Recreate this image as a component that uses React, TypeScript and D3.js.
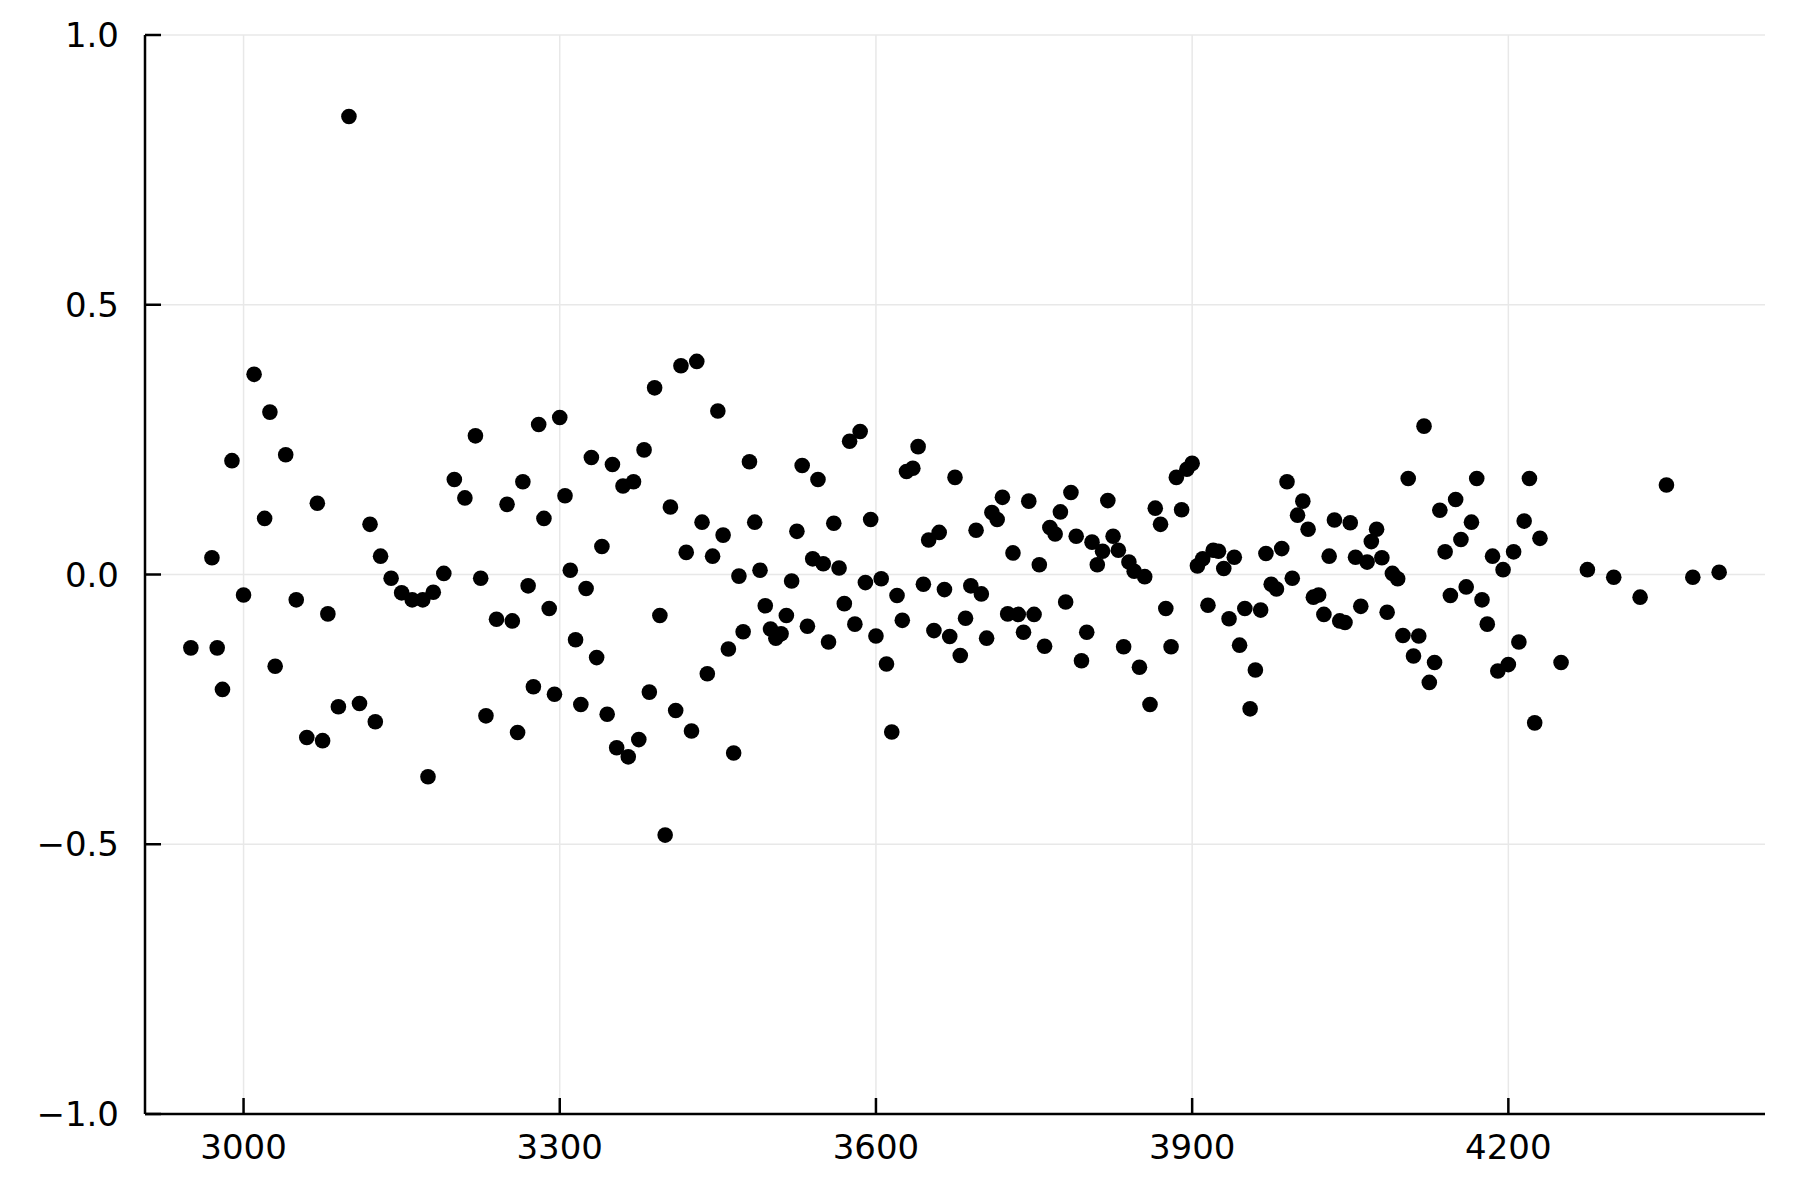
import React from "react";
import * as d3 from "d3";

// x positions of the points
const xs = [
  2950, 2970, 2975, 2980, 2989, 3000, 3010, 3020, 3025, 3030, 3040, 3050, 3060, 3070, 3075, 3080, 3090, 3100, 3110, 3120,
  3125, 3130, 3140, 3150, 3160, 3170, 3175, 3180, 3190,
  3200, 3210, 3220, 3225, 3230, 3240, 3250, 3255, 3260, 3265, 3270, 3275, 3280, 3285, 3290, 3295, 3300, 3305, 3310, 3315,
  3320, 3325, 3330, 3335, 3340, 3345, 3350, 3354, 3360, 3365, 3370, 3375, 3380, 3385, 3390, 3395, 3400, 3405, 3410, 3415,
  3420, 3425, 3430, 3435, 3440, 3445,
  3450, 3455, 3460, 3465, 3470, 3474, 3480, 3485, 3490, 3495, 3500, 3505, 3510, 3515, 3520, 3525, 3530, 3535, 3540, 3545,
  3550, 3555, 3560, 3565, 3570, 3575, 3580, 3585, 3590, 3595, 3600, 3605, 3610, 3615, 3620, 3625, 3629, 3635, 3640, 3645,
  3650, 3655, 3660, 3665, 3670, 3675, 3680, 3685, 3690, 3695, 3700,
  3705, 3710, 3715, 3720, 3725, 3730, 3735, 3740, 3745, 3750, 3755, 3760, 3765, 3770, 3775, 3780, 3785, 3790, 3795, 3800,
  3805, 3810, 3815, 3820, 3825, 3830, 3835, 3840, 3845, 3850, 3855, 3860, 3865, 3870, 3875, 3880, 3885, 3890, 3895, 3900,
  3905, 3910, 3915, 3920, 3925, 3930, 3935, 3940, 3945, 3950,
  3955, 3960, 3965, 3970, 3975, 3980, 3985, 3990, 3995, 4000, 4005, 4010, 4015, 4020, 4025, 4030, 4035, 4040, 4045, 4050,
  4055, 4060, 4066, 4070, 4075, 4080, 4085, 4090, 4095, 4100, 4105, 4110, 4115, 4120, 4125, 4130, 4135, 4140, 4145, 4150,
  4155, 4160, 4165, 4170, 4175, 4180, 4185, 4190, 4195, 4200, 4205,
  4210, 4215, 4220, 4225, 4230, 4250, 4275, 4300, 4325, 4350, 4375, 4400,
];

// y values, same order as xs
const ys = [
  -0.136, 0.031, -0.136, -0.213, 0.211, -0.038, 0.371, 0.104, 0.301, -0.17, 0.222, -0.047, -0.302, 0.132, -0.308, -0.073,
  -0.245, 0.849, -0.239, 0.093, -0.273, 0.034, -0.007, -0.034, -0.047, -0.047, -0.375, -0.033, 0.002,
  0.176, 0.142, 0.257, -0.007, -0.262, -0.083, 0.13, -0.086, -0.293, 0.172, -0.021, -0.208, 0.278, 0.104, -0.063, -0.222,
  0.291, 0.146, 0.008, -0.121, -0.241, -0.026, 0.217, -0.154, 0.052, -0.259, 0.204, -0.321, 0.164, -0.338, 0.172, -0.306,
  0.231, -0.218, 0.346, -0.076, -0.483, 0.125, -0.252, 0.387, 0.041, -0.29, 0.395, 0.097, -0.184, 0.034,
  0.303, 0.073, -0.138, -0.331, -0.003, -0.106, 0.209, 0.097, 0.008, -0.058, -0.101, -0.118, -0.11, -0.076, -0.012, 0.08,
  0.202, -0.096, 0.029, 0.176, 0.02, -0.125, 0.095, 0.012, -0.054, 0.247, -0.092, 0.265, -0.015, 0.102, -0.114, -0.008,
  -0.166, -0.292, -0.039, -0.085, 0.191, 0.197, 0.237, -0.018, 0.064, -0.104, 0.078, -0.028, -0.115, 0.18, -0.15, -0.081,
  -0.021, 0.082, -0.036,
  -0.118, 0.115, 0.102, 0.143, -0.073, 0.04, -0.074, -0.107, 0.136, -0.074, 0.018, -0.133, 0.087, 0.075, 0.116, -0.051,
  0.152, 0.071, -0.16, -0.107, 0.06, 0.018, 0.043, 0.137, 0.071, 0.045, -0.134, 0.023, 0.006, -0.172, -0.004, -0.241,
  0.123, 0.093, -0.063, -0.134, 0.18, 0.12, 0.195, 0.206, 0.016, 0.029, -0.057, 0.045, 0.043, 0.011, -0.082, 0.032,
  -0.131, -0.063,
  -0.249, -0.177, -0.066, 0.039, -0.018, -0.027, 0.048, 0.172, -0.007, 0.11, 0.136, 0.084, -0.042, -0.038, -0.074, 0.034,
  0.101, -0.086, -0.089, 0.096, 0.032, -0.059, 0.023, 0.061, 0.084, 0.031, -0.07, 0.002, -0.008, -0.113, 0.178, -0.151,
  -0.114, 0.275, -0.2, -0.163, 0.119, 0.042, -0.039, 0.139, 0.065, -0.023, 0.097, 0.178, -0.047, -0.092, 0.034, -0.179,
  0.009, -0.167, 0.042,
  -0.125, 0.099, 0.178, -0.275, 0.067, -0.163, 0.009, -0.005, -0.042, 0.166, -0.005, 0.004,
];

const xTicks = [3000, 3300, 3600, 3900, 4200];
const yTicks = [-1.0, -0.5, 0.0, 0.5, 1.0];

const App = () => {
  const width = 1800;
  const height = 1200;
  const left = 145;
  const right = 1765;
  const top = 35;
  const bottom = 1114;
  const font = "'DejaVu Sans', sans-serif";
  const fs = 34;

  const x = d3.scaleLinear().domain([2906.5, 4443.5]).range([left, right]);
  const y = d3.scaleLinear().domain([-1, 1]).range([bottom, top]);

  const fmtY = (v: number) => d3.format(".1f")(v).replace("-", "\u2212");

  return (
    <svg
      width={width}
      height={height}
      style={{ position: "absolute", left: 0, top: 0, background: "#fff" }}
    >
      <rect x={0} y={0} width={width} height={height} fill="#fff" />
      {/* grid */}
      {xTicks.map((t) => (
        <line key={"gx" + t} x1={x(t)} x2={x(t)} y1={top} y2={bottom} stroke="#e8e8e8" strokeWidth={1.5} />
      ))}
      {yTicks.map((t) => (
        <line key={"gy" + t} x1={left} x2={right} y1={y(t)} y2={y(t)} stroke="#e8e8e8" strokeWidth={1.5} />
      ))}

      {/* axes */}
      <line x1={left} x2={left} y1={top} y2={bottom} stroke="#000" strokeWidth={2.5} />
      <line x1={left} x2={right} y1={bottom} y2={bottom} stroke="#000" strokeWidth={2.5} />
      {xTicks.map((t) => (
        <g key={"tx" + t}>
          <line x1={x(t)} x2={x(t)} y1={bottom} y2={bottom - 16} stroke="#000" strokeWidth={2.5} />
          <text x={x(t)} y={bottom + 45} textAnchor="middle" fontFamily={font} fontSize={fs}>
            {t}
          </text>
        </g>
      ))}
      {yTicks.map((t) => (
        <g key={"ty" + t}>
          <line x1={left} x2={left + 16} y1={y(t)} y2={y(t)} stroke="#000" strokeWidth={2.5} />
          <text
            x={left - 26}
            y={y(t)}
            dy="0.36em"
            textAnchor="end"
            fontFamily={font}
            fontSize={fs}
          >
            {fmtY(t)}
          </text>
        </g>
      ))}

      {/* points */}
      {xs.map((d, i) => (
        <circle key={i} cx={x(d)} cy={y(ys[i])} r={7.8} fill="#000" />
      ))}
    </svg>
  );
};

export default App;
